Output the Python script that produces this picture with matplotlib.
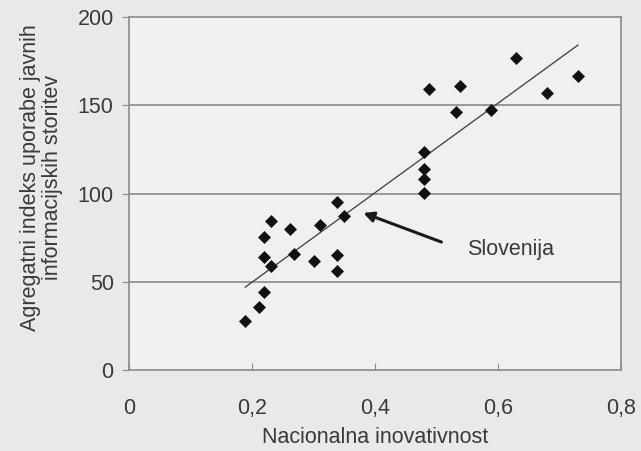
import numpy as np
import matplotlib
matplotlib.use('Agg')
import matplotlib.pyplot as plt

# Podatki, odčitani s slike
inovativnost = [0.189, 0.211, 0.220, 0.231, 0.220, 0.220, 0.231, 0.261, 0.268,
                0.300, 0.310, 0.338, 0.350, 0.339, 0.339,
                0.480, 0.480, 0.480, 0.480, 0.488, 0.531, 0.538, 0.588,
                0.630, 0.680, 0.730]
indeks = [28, 35.5, 44, 59, 64, 75.5, 84.5, 80, 66,
          62, 82, 95, 87, 65, 56,
          123.5, 114, 108, 100.5, 159, 146, 161, 147.5,
          177, 157, 166.5]

x_ticks = [0, 0.2, 0.4, 0.6, 0.8]
x_tick_labels = ['0', '0,2', '0,4', '0,6', '0,8']
y_ticks = [0, 50, 100, 150, 200]

slovenija = (0.350, 87)

plt.rcParams['font.family'] = ['Liberation Sans', 'DejaVu Sans']
text_col = '#3a3a3a'
line_col = '#8a8a8a'
fs = 15.5

fig = plt.figure(figsize=(6.41, 4.51), dpi=100, facecolor='#e9e9eb')
ax = fig.add_axes([129 / 641, 1 - 370 / 451, 492 / 641, 353 / 451])
ax.set_facecolor('#eef0f2')

ax.set_xlim(0, 0.8)
ax.set_ylim(0, 200)

for yv in y_ticks[1:-1]:
    ax.axhline(yv, color=line_col, lw=1.2, zorder=1)

for s in ax.spines.values():
    s.set_color(line_col)
    s.set_linewidth(1.2)

# trend
k, n = np.polyfit(inovativnost, indeks, 1)
xl = np.array([min(inovativnost), max(inovativnost)])
ax.plot(xl, k * xl + n, color='#4a4a4a', lw=1.0, zorder=2)

ax.scatter(inovativnost, indeks, marker='D', s=44, color='#111111', zorder=3,
           linewidths=0)

# puščica do Slovenije
ax.annotate('', xy=(slovenija[0] + 0.031, slovenija[1] + 2),
            xytext=(slovenija[0] + 0.158, slovenija[1] - 14.5),
            arrowprops=dict(arrowstyle='-|>,head_length=0.6,head_width=0.3',
                            color='#1a1a1a', lw=2.2, shrinkA=0, shrinkB=0))
ax.text(0.549, 68.5, 'Slovenija', fontsize=fs, color=text_col, va='center')

ax.set_xticks(x_ticks)
ax.set_xticklabels(x_tick_labels)
ax.set_yticks(y_ticks)
ax.tick_params(axis='x', direction='in', length=5, color=line_col,
               labelsize=fs, labelcolor=text_col, pad=20)
ax.tick_params(axis='y', direction='out', length=5, color=line_col,
               labelsize=fs, labelcolor=text_col, pad=6)

ax.set_xlabel('Nacionalna inovativnost', fontsize=fs, color=text_col, labelpad=6)
ax.set_ylabel('Agregatni indeks uporabe javnih\ninformacijskih storitev',
              fontsize=fs, color=text_col, linespacing=1.05)
ax.yaxis.set_label_coords(-0.135, 0.545)

fig.savefig('out.png', dpi=100, facecolor=fig.get_facecolor())
